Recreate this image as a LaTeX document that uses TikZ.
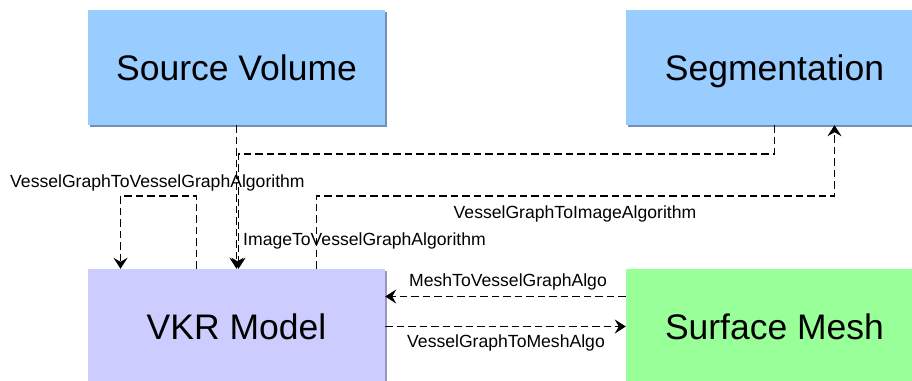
\documentclass[tikz,border=0pt]{standalone}
\usepackage{fontspec}
\setmainfont{Liberation Sans}
\usetikzlibrary{arrows.meta,calc,positioning,shadows}
\definecolor{imgblue}{HTML}{99CCFF}
\definecolor{imgshade}{HTML}{7090B8}
\definecolor{modelviolet}{HTML}{CCCCFF}
\definecolor{modelshade}{HTML}{9898C0}
\definecolor{meshgreen}{HTML}{99FF99}

\tikzset{
  box/.style={minimum width=297pt,minimum height=115pt,inner sep=0pt,
    text depth=0pt,font=\fontsize{35.5}{40}\selectfont},
  shade/.style={general shadow={fill=#1,shadow xshift=2pt,shadow yshift=-2pt}},
  conn/.style={draw=black,line width=1.5pt,dash pattern=on 7.5pt off 4pt,
    -{Stealth[length=11pt,width=14pt,inset=4pt]}},
  lbl/.style={font=\fontsize{17.6}{20}\selectfont,inner sep=0pt}
}

\begin{document}
\begin{tikzpicture}[x=1pt,y=-1pt]
	\useasboundingbox (0,0) rectangle (912,380);
	\clip (0,0) rectangle (912,380);
	% boxes
	\node[box,fill=imgblue,shade=imgshade] (src) at (236.5,67.5) {Source Volume};
	\node[box,fill=imgblue,shade=imgshade] (seg) at (774.5,67.5) {Segmentation};
	\node[box,fill=modelviolet,shade=modelshade] (vkr) at (236.5,326.5) {VKR Model};
	\node[box,fill=meshgreen] (mesh) at (774.5,326.5) {Surface Mesh};
	% connectors
	\draw[conn] (src.south) -- (vkr.north);
	\draw[conn] (seg.south) |- ($(vkr.north)+(2,-115)$) -- ($(vkr.north)+(2,0)$);
	\draw[conn] ($(vkr.north)+(-40,0)$) -- ++(0,-73) -| ($(vkr.north)+(-116,0)$);
	\draw[conn] ($(vkr.north)+(80,0)$) -- ++(0,-73) -| ($(seg.south)+(60,0)$);
	\draw[conn] ($(mesh.west)+(0,-30)$) -- ($(vkr.east)+(0,-30)$);
	\draw[conn] (vkr.east) -- (mesh.west);
	% labels
	\node[lbl,anchor=west] (loopname) at (10,183) {VesselGraphToVesselGraphAlgorithm};
	\node[lbl,anchor=west] (imgname) at (243,241) {ImageToVesselGraphAlgorithm};
	\node[lbl] (segname) at (575,214) {VesselGraphToImageAlgorithm};
	\node[lbl] (tomodel) at (508,282) {MeshToVesselGraphAlgo};
	\node[lbl] (tomesh) at (506,343) {VesselGraphToMeshAlgo};
\end{tikzpicture}
\end{document}
